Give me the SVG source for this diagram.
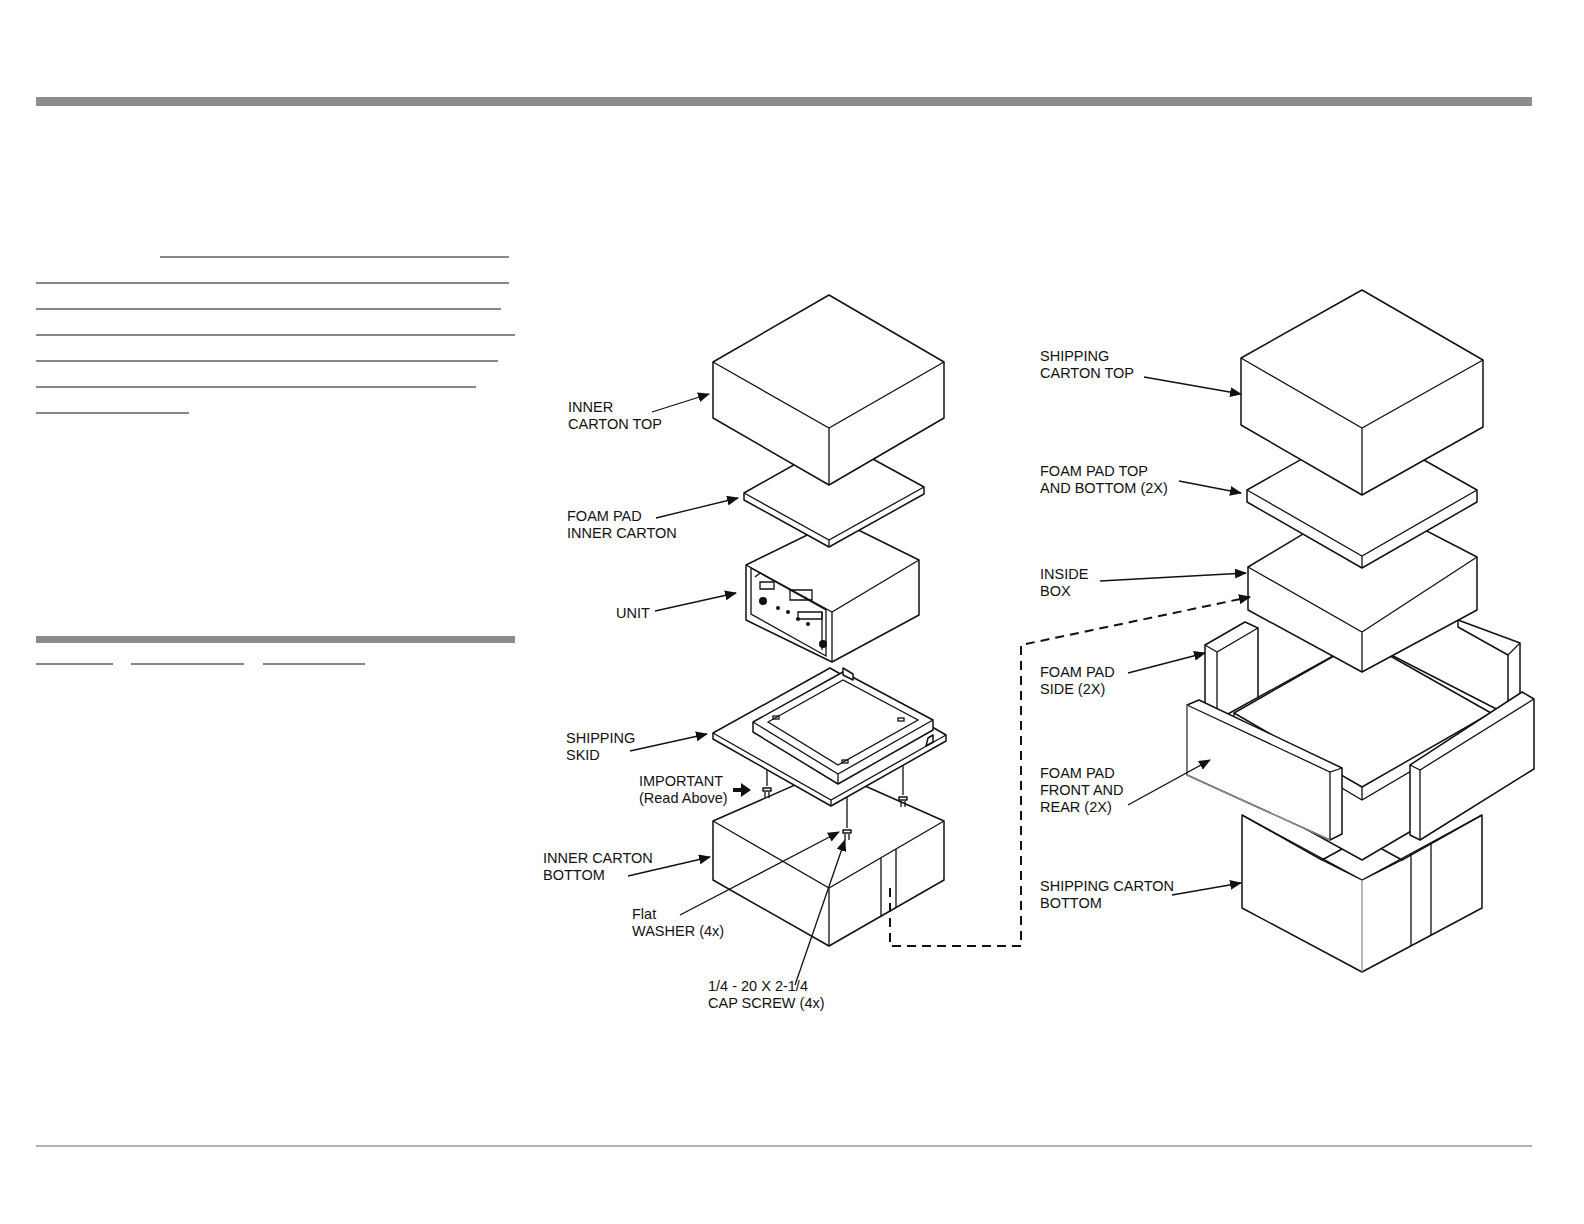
<svg xmlns="http://www.w3.org/2000/svg" width="1584" height="1224" viewBox="0 0 1584 1224">
<style>
.s{fill:#fff;stroke:#111;stroke-width:1.5;stroke-linejoin:round}
.t{font-family:"Liberation Sans",Arial,sans-serif;font-size:14.5px;fill:#111}
.l{stroke:#111;stroke-width:1.3;fill:none}
.u{stroke:#111;stroke-width:1.2}
</style>
<defs><marker id="a" markerWidth="12" markerHeight="10" refX="11" refY="5" orient="auto" markerUnits="userSpaceOnUse"><path d="M0,0 L12,5 L0,10z" fill="#111"/></marker></defs>
<rect width="1584" height="1224" fill="#fff"/>
<rect x="36" y="97" width="1496" height="9" fill="#8c8c8c"/>
<rect x="36" y="636" width="479" height="7" fill="#8c8c8c"/>
<line x1="36" y1="1146" x2="1532" y2="1146" stroke="#999" stroke-width="1.5"/>
<g id="textlines">
<line class="u" x1="160" y1="257" x2="509" y2="257"/><line class="u" x1="36" y1="283" x2="509" y2="283"/>
<line class="u" x1="36" y1="309" x2="501" y2="309"/><line class="u" x1="36" y1="335" x2="515" y2="335"/>
<line class="u" x1="36" y1="361" x2="498" y2="361"/><line class="u" x1="36" y1="387" x2="476" y2="387"/>
<line class="u" x1="36" y1="413" x2="189" y2="413"/>
<line class="u" x1="36" y1="664" x2="113" y2="664"/><line class="u" x1="131" y1="664" x2="244" y2="664"/><line class="u" x1="263" y1="664" x2="365" y2="664"/>
</g>
<g id="inner-carton-bottom">
<path class="s" d="M713,821 L829,770 L944,821 L944,880 L829,946 L713,880z"/>
<path class="l" d="M713,821 L829,888 L944,821 M829,888 V946 M881,858 V917 M896,849 V908"/>
</g>
<g id="screws">
<path class="l" d="M767,768 V786 M903,765 V795 M847,797 V828"/>
<path class="s" d="M763,788 h8 v3 h-8z M899,797 h8 v3 h-8z M843,830 h8 v3 h-8z"/>
<path class="l" d="M765,792 v6 M769,792 v6 M901,801 v6 M905,801 v6 M845,834 v6 M849,834 v6"/>
</g>
<g id="shipping-skid">
<path class="s" d="M713,733 L830,668 L946,735 L946,741 L831,806 L713,739z"/>
<path class="l" d="M713,733 L831,800 L946,735 M831,800 V806"/>
<path class="s" d="M753,722 L843,672 L933,720 L933,730 L838,784 L753,732z"/>
<path class="l" d="M753,722 L838,774 L933,720 M838,774 V784"/>
<path class="l" d="M768,722 L843,680 L918,720 L838,765z"/>
<path class="s" d="M843,668 L853,674 L853,680 L843,675z M928,738 L933,735 L933,742 L926,746z"/>
<rect x="773" y="716" width="6" height="3" class="l"/><rect x="898" y="718" width="6" height="3" class="l"/><rect x="842" y="760" width="6" height="3" class="l"/>
</g>
<g id="unit">
<path class="s" d="M746,565 L838,520 L919,560 L919,615 L832,662 L746,620z"/>
<path class="l" d="M746,565 L832,612 L919,560 M832,612 V662"/>
<path class="l" d="M751,568 L826,610 L826,656 L751,614z M755,577 L760,573 M822,612 L822,650"/>
<path class="l" d="M760,582 h14 v7 h-14z M790,590 h22 v10 h-22z M798,612 h24 v7 h-24z"/>
<circle cx="763" cy="601" r="4" fill="#111"/><circle cx="823" cy="644" r="4" fill="#111"/>
<circle cx="778" cy="608" r="2" fill="#111"/><circle cx="788" cy="612" r="2" fill="#111"/><circle cx="798" cy="619" r="2" fill="#111"/><circle cx="808" cy="624" r="2" fill="#111"/>
</g>
<g id="foam-pad-inner">
<path class="s" d="M744,493 L838,440 L924,487 L924,494 L829,547 L744,500z"/>
<path class="l" d="M744,493 L829,540 L924,487 M829,540 V547"/>
</g>
<g id="inner-carton-top">
<path class="s" d="M713,362 L829,295 L944,362 L944,418 L829,485 L713,418z"/>
<path class="l" d="M713,362 L829,428 L944,362 M829,428 V485"/>
</g>
<g id="shipping-carton-bottom">
<path class="s" d="M1242,815 L1322,860 L1362,838 L1402,860 L1482,815 L1482,908 L1362,972 L1242,908z"/>
<path class="l" d="M1242,815 L1362,880 L1482,815 M1411,853 V946 M1431,843 V935 M1322,860 L1362,880 L1402,860"/>
<path d="M1362,880 V972" stroke="#888" stroke-width="1.2"/>
</g>
<g id="foam-pad-side">
<path class="s" d="M1205,645 L1245,622 L1258,628 L1258,700 L1217,720 L1205,713z"/>
<path class="l" d="M1205,645 L1217,652 L1258,628 M1217,652 V720"/>
<path class="s" d="M1458,620 L1520,643 L1520,710 L1508,715 L1508,655 L1458,627z"/>
<path class="l" d="M1508,655 L1520,643"/>
<path class="s" d="M1217,720 L1362,640 L1508,715 L1508,774 L1362,860 L1217,780z"/>
<path class="s" d="M1234,713 L1362,640 L1491,713 L1362,787z"/>
<path class="l" d="M1362,787 V800 M1234,713 L1234,724 L1362,800 L1491,724 L1491,713"/>
</g>
<g id="foam-pad-front-rear">
<path class="s" d="M1187,705 L1199,700 L1342,768 L1342,834 L1330,840 L1187,775z"/>
<path class="l" d="M1187,705 L1330,772 L1342,768 M1330,772 V840"/>
<path d="M1187,705 V775 L1330,840" stroke="#999" stroke-width="1.2" fill="none"/>
<path class="s" d="M1410,765 L1522,692 L1534,699 L1534,769 L1420,840 L1410,835z"/>
<path class="l" d="M1410,765 L1420,770 L1534,699 M1420,770 V840"/>
</g>
<g id="inside-box">
<path class="s" d="M1248,567 L1363,498 L1477,557 L1477,610 L1362,672 L1248,610z"/>
<path class="l" d="M1248,567 L1362,632 L1477,557 M1362,632 V672"/>
</g>
<g id="foam-pad-top">
<path class="s" d="M1247,490 L1362,425 L1477,490 L1477,502 L1362,568 L1247,502z"/>
<path class="l" d="M1247,490 L1362,556 L1477,490 M1362,556 V568"/>
</g>
<g id="shipping-carton-top">
<path class="s" d="M1241,358 L1362,290 L1483,360 L1483,427 L1362,495 L1241,425z"/>
<path class="l" d="M1241,358 L1362,428 L1483,360 M1362,428 V495"/>
</g>
<g id="connectors">
<path d="M890,888 V946 H1021 V645 L1250,597" fill="none" stroke="#111" stroke-width="2" stroke-dasharray="9,6" marker-end="url(#a)"/>
<path class="l" marker-end="url(#a)" d="M652,412 L709,394"/>
<path class="l" marker-end="url(#a)" d="M656,518 L738,498"/>
<path class="l" marker-end="url(#a)" d="M655,611 L736,593"/>
<path class="l" marker-end="url(#a)" d="M630,751 L707,734"/>
<path class="l" marker-end="url(#a)" d="M628,876 L710,857"/>
<path class="l" marker-end="url(#a)" d="M680,915 L839,832"/>
<path class="l" marker-end="url(#a)" d="M795,985 L845,840"/>
<path d="M733,788 h8 v-5 l10,7 l-10,7 v-5 h-8z" fill="#111"/>
<path class="l" marker-end="url(#a)" d="M1144,377 L1241,394"/>
<path class="l" marker-end="url(#a)" d="M1179,481 L1241,493"/>
<path class="l" marker-end="url(#a)" d="M1100,581 L1246,573"/>
<path class="l" marker-end="url(#a)" d="M1128,673 L1205,653"/>
<path class="l" marker-end="url(#a)" d="M1128,805 L1210,760"/>
<path class="l" marker-end="url(#a)" d="M1172,895 L1241,883"/>
</g>
<g id="labels">
<text class="t" x="568" y="412">INNER</text><text class="t" x="568" y="429">CARTON TOP</text>
<text class="t" x="567" y="521">FOAM PAD</text><text class="t" x="567" y="538">INNER CARTON</text>
<text class="t" x="616" y="618">UNIT</text>
<text class="t" x="566" y="743">SHIPPING</text><text class="t" x="566" y="760">SKID</text>
<text class="t" x="639" y="786">IMPORTANT</text><text class="t" x="639" y="803">(Read Above)</text>
<text class="t" x="543" y="863">INNER CARTON</text><text class="t" x="543" y="880">BOTTOM</text>
<text class="t" x="632" y="919">Flat</text><text class="t" x="632" y="936">WASHER (4x)</text>
<text class="t" x="708" y="991">1/4 - 20 X 2-1/4</text><text class="t" x="708" y="1008">CAP SCREW (4x)</text>
<text class="t" x="1040" y="361">SHIPPING</text><text class="t" x="1040" y="378">CARTON TOP</text>
<text class="t" x="1040" y="476">FOAM PAD TOP</text><text class="t" x="1040" y="493">AND BOTTOM (2X)</text>
<text class="t" x="1040" y="579">INSIDE</text><text class="t" x="1040" y="596">BOX</text>
<text class="t" x="1040" y="677">FOAM PAD</text><text class="t" x="1040" y="694">SIDE (2X)</text>
<text class="t" x="1040" y="778">FOAM PAD</text><text class="t" x="1040" y="795">FRONT AND</text><text class="t" x="1040" y="812">REAR (2X)</text>
<text class="t" x="1040" y="891">SHIPPING CARTON</text><text class="t" x="1040" y="908">BOTTOM</text>
</g>
</svg>
